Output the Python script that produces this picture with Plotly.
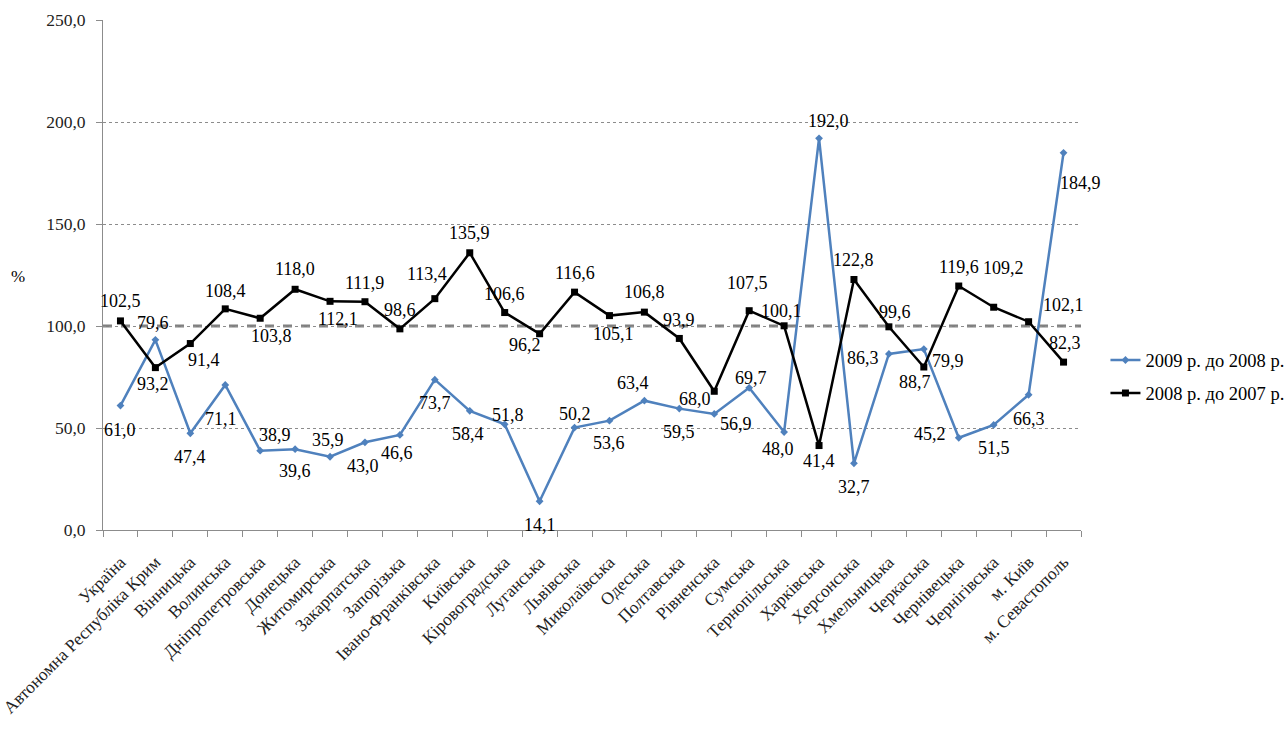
import plotly.graph_objects as go

# Regions of Ukraine (categories on the x axis)
regions = [
    "Україна", "Автономна Республіка Крим", "Вінницька", "Волинська",
    "Дніпропетровська", "Донецька", "Житомирська", "Закарпатська",
    "Запорізька", "Івано-Франківська", "Київська", "Кіровоградська",
    "Луганська", "Львівська", "Миколаївська", "Одеська", "Полтавська",
    "Рівненська", "Сумська", "Тернопільська", "Харківська", "Херсонська",
    "Хмельницька", "Черкаська", "Чернівецька", "Чернігівська", "м. Київ",
    "м. Севастополь",
]

# 2009 compared with 2008, %
ratio_2009_2008 = [
    61.0, 93.2, 47.4, 71.1, 38.9, 39.6, 35.9, 43.0, 46.6, 73.7, 58.4, 51.8,
    14.1, 50.2, 53.6, 63.4, 59.5, 56.9, 69.7, 48.0, 192.0, 32.7, 86.3, 88.7,
    45.2, 51.5, 66.3, 184.9,
]

# 2008 compared with 2007, %
ratio_2008_2007 = [
    102.5, 79.6, 91.4, 108.4, 103.8, 118.0, 112.1, 111.9, 98.6, 113.4, 135.9,
    106.6, 96.2, 116.6, 105.1, 106.8, 93.9, 68.0, 107.5, 100.1, 41.4, 122.8,
    99.6, 79.9, 119.6, 109.2, 102.1, 82.3,
]

series_names = ["2009 р. до 2008 р.", "2008 р. до 2007 р."]
y_ticks = [0, 50, 100, 150, 200, 250]
reference_level = 100

# Pixel offsets (dx right, dy down) of each value label from its marker
blue_label_offsets = [
    (0, 24), (-2, 44), (0, 24), (-4, 34), (15, -16), (0, 22), (-2, -17),
    (-2, 24), (-3, 18), (0, 23), (-2, 23), (3, -9), (0, 24), (0, -14),
    (0, 22), (-11, -18), (0, 23), (22, 10), (2, -10), (-6, 17), (9, -17),
    (0, 24), (-26, 4), (-9, 33), (-29, -4), (0, 23), (0, 24), (17, 30),
]
black_label_offsets = [
    (0, -20), (-2, -45), (14, 16), (0, -18), (11, 18), (0, -20), (8, 18),
    (0, -19), (0, -19), (-8, -25), (0, -20), (0, -19), (-15, 11), (0, -19),
    (4, 18), (0, -20), (0, -18), (-19, 8), (-2, -28), (-3, -15), (0, 15),
    (0, -19), (6, -15), (24, -6), (0, -19), (10, -39), (35, -17), (1, -19),
]

BLUE = "#4F81BD"
BLACK = "#000000"
FONT = "Liberation Serif, Times New Roman, serif"


def fmt(v):
    return f"{v:.1f}".replace(".", ",")


fig = go.Figure()

fig.add_trace(go.Scatter(
    x=regions, y=ratio_2009_2008, name=series_names[0], mode="lines+markers",
    legendgroup="a",
    line=dict(color=BLUE, width=2.5),
    marker=dict(symbol="diamond", size=6, color=BLUE),
))
fig.add_trace(go.Scatter(
    x=regions, y=ratio_2008_2007, name=series_names[1], mode="lines+markers",
    legendgroup="b",
    line=dict(color=BLACK, width=2.5),
    marker=dict(symbol="square", size=7, color=BLACK),
))

# Dashed reference line at 100 %
fig.add_shape(
    type="line", xref="paper", yref="y", x0=0, x1=1,
    y0=reference_level, y1=reference_level,
    line=dict(color="#808080", width=3, dash="dash"),
    layer="below",
)

annotations = []
for values, offsets in ((ratio_2009_2008, blue_label_offsets),
                        (ratio_2008_2007, black_label_offsets)):
    for name, v, (dx, dy) in zip(regions, values, offsets):
        annotations.append(dict(
            x=name, y=v, xref="x", yref="y", text=fmt(v), showarrow=False,
            xshift=dx, yshift=-dy, font=dict(family=FONT, size=18, color="#000"),
        ))

# Unit label to the left of the value axis
annotations.append(dict(
    x=-0.087, y=0.498, xref="paper", yref="paper", text="%", showarrow=False,
    xanchor="center", yanchor="middle",
    font=dict(family=FONT, size=17, color="#000"),
))

fig.update_layout(
    width=1288, height=729,
    margin=dict(l=103, r=207, t=20, b=199, autoexpand=False),
    paper_bgcolor="white", plot_bgcolor="white",
    font=dict(family=FONT, size=17, color="#222"),
    separators=",.",
    showlegend=True,
    legend=dict(
        x=1.025, y=0.300, xanchor="left", yanchor="middle",
        font=dict(family=FONT, size=18.5, color="#000"),
        bgcolor="rgba(0,0,0,0)", tracegroupgap=6,
    ),
    xaxis=dict(
        type="category", tickangle=-45, showgrid=False,
        showline=True, linecolor="#8c8c8c", linewidth=1,
        ticks="outside", tickson="boundaries", ticklen=6, tickcolor="#8c8c8c",
        tickfont=dict(family=FONT, size=17.5, color="#222"),
        ticklabelstandoff=14,
        range=[-0.5, len(regions) - 0.5],
    ),
    yaxis=dict(
        range=[0, 250], tickvals=y_ticks, tickformat=".1f",
        showgrid=True, gridcolor="#8c8c8c", gridwidth=1, griddash="dot",
        showline=True, linecolor="#8c8c8c", linewidth=1,
        ticks="outside", ticklen=6, tickcolor="#8c8c8c",
        tickfont=dict(family=FONT, size=17.5, color="#222"),
        ticklabelstandoff=7,
        zeroline=False,
    ),
    annotations=annotations,
)

fig.write_html("out.html")
